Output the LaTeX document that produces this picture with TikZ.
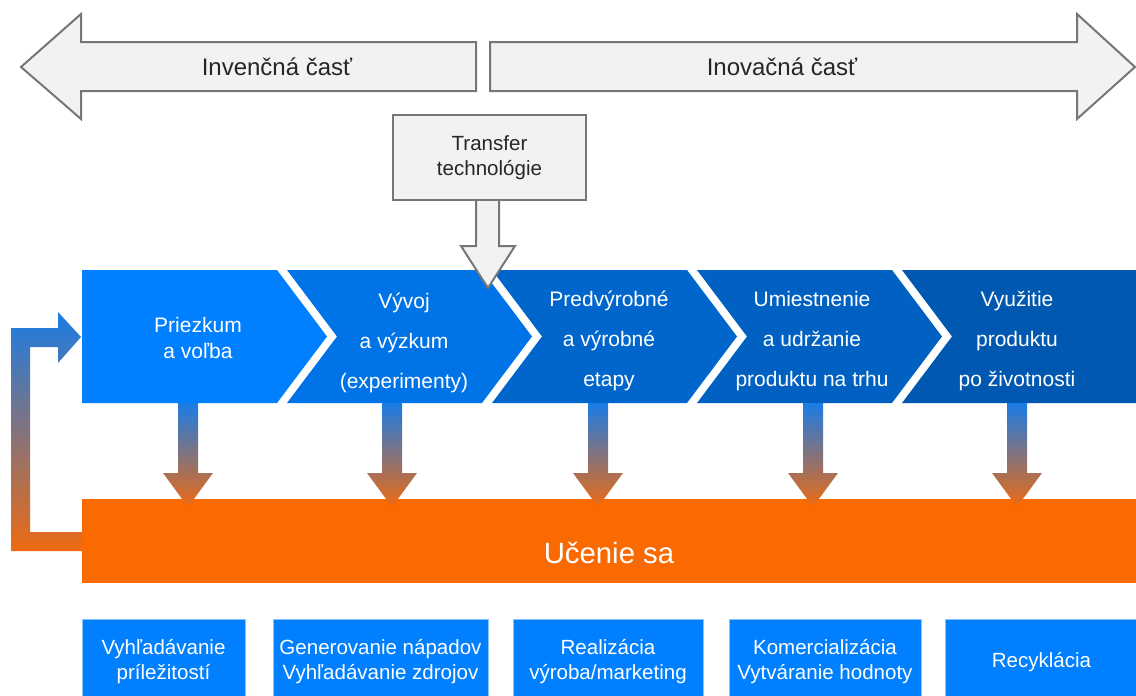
\documentclass[tikz,border=0pt]{standalone}
\usepackage{fontspec}
\setmainfont{Liberation Sans}
\definecolor{lgray}{HTML}{F2F2F2}
\definecolor{dgray}{HTML}{767676}
\definecolor{chA}{HTML}{0080FF}
\definecolor{chB}{HTML}{0073E6}
\definecolor{chC}{HTML}{0066CC}
\definecolor{chD}{HTML}{0061C2}
\definecolor{chE}{HTML}{0058B0}
\definecolor{ablue}{HTML}{1A7CE6}
\definecolor{aorange}{HTML}{EE6A12}
\definecolor{lorange}{HTML}{FA6A00}
\definecolor{bborder}{HTML}{8CC3FF}
\begin{document}
\begin{tikzpicture}[x=0.75pt,y=-0.75pt,
  graybox/.style={fill=lgray,draw=dgray,line width=1.5pt,line join=miter},
  toptext/.style={font=\fontsize{18}{22}\selectfont,text=black!85},
  chtext/.style={text=white,align=center,inner sep=0pt,font=\fontsize{15.75}{30}\selectfont},
  btext/.style={text=white,align=center,inner sep=0pt,font=\fontsize{15.4}{18.75}\selectfont,
    fill=chA,draw=bborder,line width=0.75pt},
  grad/.style={top color=ablue,bottom color=aorange}]
\useasboundingbox (0,0) rectangle (1136,696);

% top arrows
\draw[graybox] (476,42) -- (81,42) -- (81,14) -- (21,67) -- (81,119) -- (81,91) -- (476,91) -- cycle;
\node[toptext] (inv) at (277,67) {Invenčná časť};
\draw[graybox] (490,42) -- (1077,42) -- (1077,14) -- (1135,67) -- (1077,119) -- (1077,91) -- (490,91) -- cycle;
\node[toptext] (ino) at (782,67) {Inovačná časť};

% chevrons
\fill[chA] (82,270) -- (277,270) -- (327,336.5) -- (277,403) -- (82,403) -- cycle;
\fill[chB] (287,270) -- (482,270) -- (532,336.5) -- (482,403) -- (287,403) -- (337,336.5) -- cycle;
\fill[chC] (492,270) -- (687,270) -- (737,336.5) -- (687,403) -- (492,403) -- (542,336.5) -- cycle;
\fill[chD] (697,270) -- (892,270) -- (942,336.5) -- (892,403) -- (697,403) -- (747,336.5) -- cycle;
\fill[chE] (902,270) -- (1136,270) -- (1136,403) -- (902,403) -- (952,336.5) -- cycle;

\node[chtext,font=\fontsize{15.75}{19.5}\selectfont] (c1) at (198,338) {Priezkum\\a voľba};
\node[chtext] (c2) at (404,343) {Vývoj\\a výzkum\\(experimenty)};
\node[chtext] (c3) at (609,341) {Predvýrobné\\a výrobné\\etapy};
\node[chtext] (c4) at (812,341) {Umiestnenie\\a udržanie\\produktu na trhu};
\node[chtext] (c5) at (1017,341) {Využitie\\produktu\\po životnosti};

% transfer box and its arrow
\coordinate (tr) at (488,200);
\draw[graybox,shift={(tr)}] (-12,0) -- (-12,46) -- (-27,46) -- (0,88) -- (27,46) -- (11,46) -- (11,0);
\node[graybox,minimum width=144.75pt,minimum height=63.75pt,inner sep=0pt,align=center,
  font=\fontsize{15.4}{18.75}\selectfont,text=black!85] (transfer) at (489.5,157.5) {Transfer\\technológie};

% learning bar
\fill[lorange] (82,499) rectangle (1136,583);
\node[text=white,font=\fontsize{22}{26}\selectfont] (learn) at (609,553) {Učenie sa};

% down arrows from phases to learning
\foreach \cx in {188,392,598,813,1017}{
  \shade[grad] (\cx-10,403) -- (\cx+10,403) -- (\cx+10,473) -- (\cx+25,473) -- (\cx,507) -- (\cx-25,473) -- (\cx-10,473) -- cycle;
}

% feedback arrow
\shade[grad] (82,532) -- (30,532) -- (30,347) -- (58,347) -- (58,363) -- (81,337) -- (58,312) -- (58,328) -- (11,328) -- (11,551) -- (82,551) -- cycle;

% bottom boxes
\node[btext,minimum width=122.25pt,minimum height=64.5pt] (b1) at (163.5,662) {Vyhľadávanie\\príležitostí};
\node[btext,minimum width=161.25pt,minimum height=64.5pt] (b2) at (380.5,662) {Generovanie nápadov\\Vyhľadávanie zdrojov};
\node[btext,minimum width=142.5pt,minimum height=64.5pt] (b3) at (608,662) {Realizácia\\výroba/marketing};
\node[btext,minimum width=144pt,minimum height=64.5pt] (b4) at (825,662) {Komercializácia\\Vytváranie hodnoty};
\node[btext,minimum width=144.75pt,minimum height=64.5pt] (b5) at (1041.5,662) {Recyklácia};
\end{tikzpicture}
\end{document}
